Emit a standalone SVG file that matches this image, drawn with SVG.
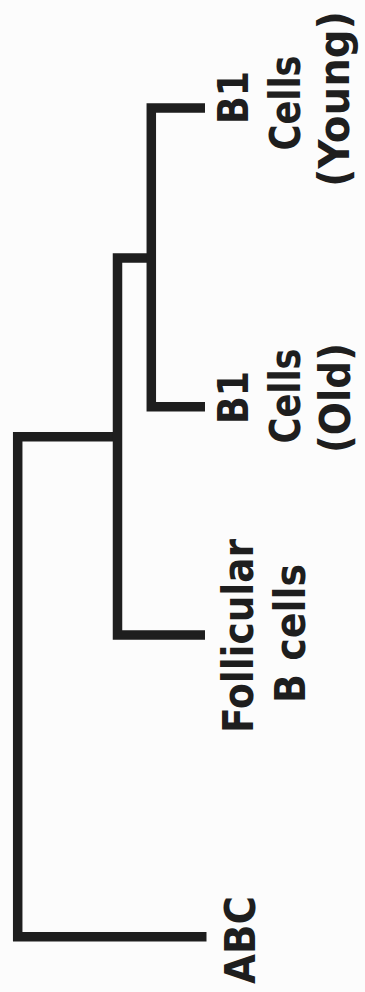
<svg xmlns="http://www.w3.org/2000/svg" width="365" height="992" viewBox="0 0 365 992">
  <style>
    .edge { fill: none; stroke: #1e1e1e; stroke-width: 9.5; stroke-linecap: butt; stroke-linejoin: miter; }
    .lbl { font-family: "DejaVu Sans", Verdana, sans-serif; font-weight: bold; font-size: 42px; fill: #1e1e1e; text-anchor: middle; }
  </style>
  <rect x="0" y="0" width="365" height="992" fill="#fcfcfc"/>
  <g id="connectors">
    <path class="edge" d="M206.5 936.7 H17.7 V436.7 H117.5"/>
    <path class="edge" d="M205 635 H117.5 V258 H151.3"/>
    <path class="edge" d="M205 108 H151.3 V406.7 H205"/>
  </g>
  <g id="node-b1-young">
    <text class="lbl" transform="translate(248,97.5) rotate(-90)" textLength="53" lengthAdjust="spacingAndGlyphs">B1</text>
    <text class="lbl" transform="translate(300,103) rotate(-90)" textLength="95" lengthAdjust="spacingAndGlyphs">Cells</text>
    <text class="lbl" transform="translate(349,99) rotate(-90)" textLength="176" lengthAdjust="spacingAndGlyphs">(Young)</text>
  </g>
  <g id="node-b1-old">
    <text class="lbl" transform="translate(248,397.5) rotate(-90)" textLength="53" lengthAdjust="spacingAndGlyphs">B1</text>
    <text class="lbl" transform="translate(300,396) rotate(-90)" textLength="95" lengthAdjust="spacingAndGlyphs">Cells</text>
    <text class="lbl" transform="translate(350,398) rotate(-90)" textLength="110" lengthAdjust="spacingAndGlyphs">(Old)</text>
  </g>
  <g id="node-follicular">
    <text class="lbl" transform="translate(253,636) rotate(-90)" textLength="194" lengthAdjust="spacingAndGlyphs">Follicular</text>
    <text class="lbl" transform="translate(305,633.5) rotate(-90)" textLength="139" lengthAdjust="spacingAndGlyphs">B cells</text>
  </g>
  <g id="node-abc">
    <text class="lbl" transform="translate(255,940) rotate(-90)" textLength="88" lengthAdjust="spacingAndGlyphs">ABC</text>
  </g>
</svg>
